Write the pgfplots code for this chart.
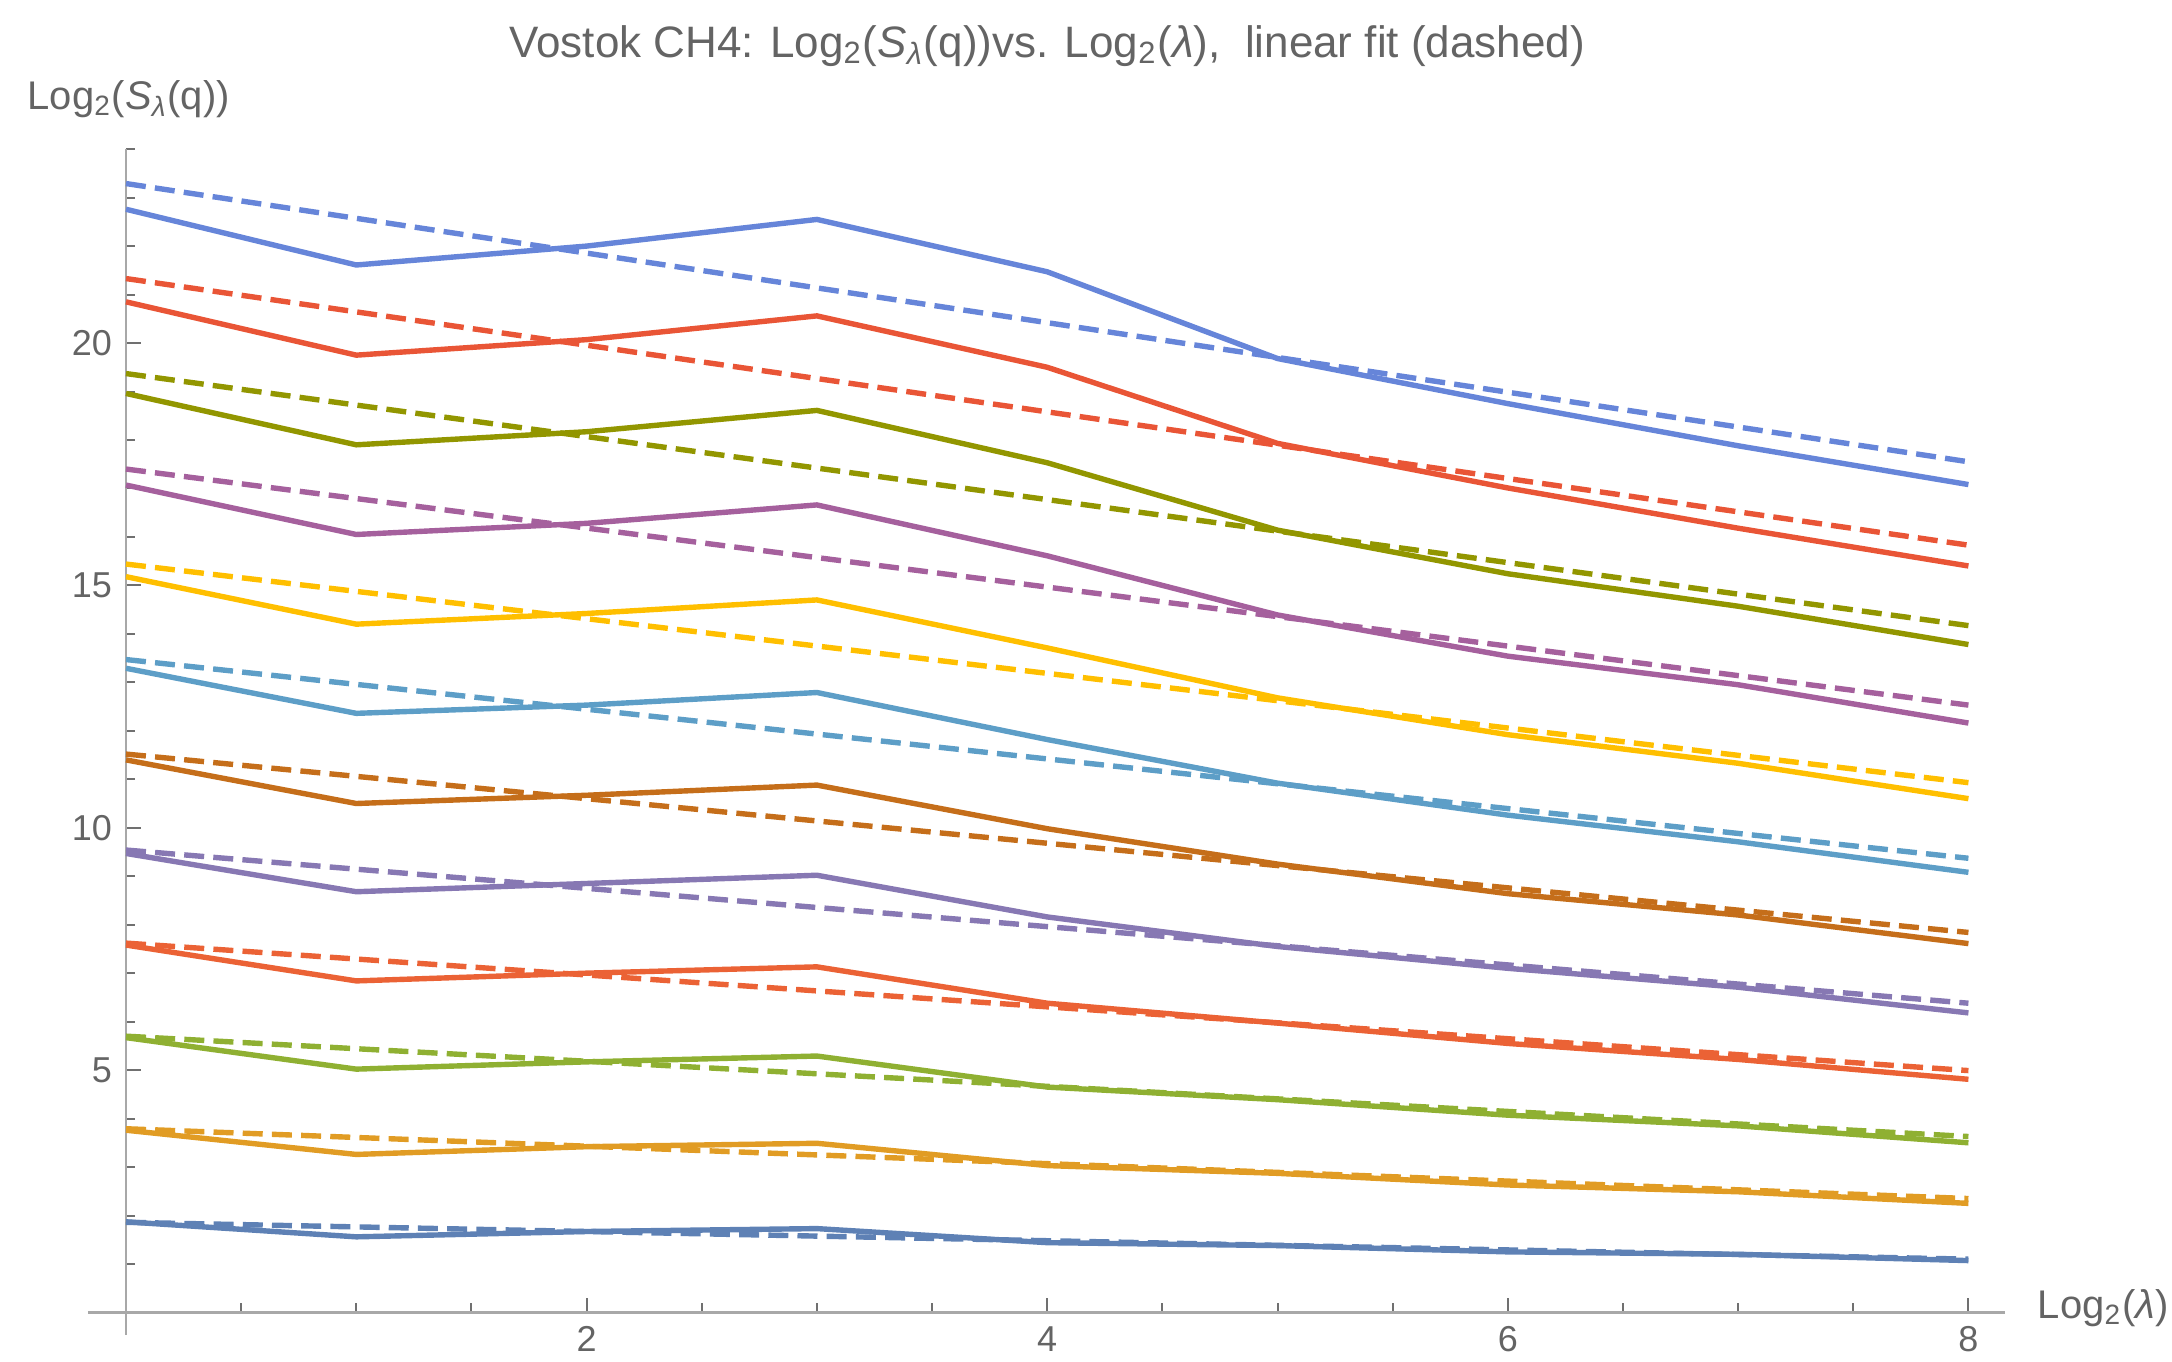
\documentclass[border=0pt]{standalone}
\usepackage{pgfplots}
\pgfplotsset{compat=1.18}
\usepackage{fontspec}
\setmainfont{Liberation Sans}
\definecolor{cA}{HTML}{5E81B5}
\definecolor{cB}{HTML}{E19C24}
\definecolor{cC}{HTML}{8FB032}
\definecolor{cD}{HTML}{EB6235}
\definecolor{cE}{HTML}{8778B3}
\definecolor{cF}{HTML}{C56E1A}
\definecolor{cG}{HTML}{5D9EC7}
\definecolor{cH}{HTML}{FFBF00}
\definecolor{cI}{HTML}{A5609D}
\definecolor{cJ}{HTML}{929600}
\definecolor{cK}{HTML}{E95536}
\definecolor{cL}{HTML}{6685D9}
\definecolor{axisgray}{HTML}{A8A8A8}
\definecolor{tickgray}{HTML}{707070}
\definecolor{textgray}{HTML}{646464}
\begin{document}
\begin{tikzpicture}
\begin{axis}[
  x=57.575pt, y=12.1175pt,
  xmin=-0.165, xmax=8.16, ymin=-0.47, ymax=24.0,
  axis lines=middle,
  axis line style={-, color=axisgray, line width=0.6pt},
  clip=false,
  xtick={2,4,6,8}, minor xtick={0,0.5,...,8},
  ytick={5,10,15,20}, minor ytick={1,2,...,24},
  tick align=inside,
  major tick length=3.7pt, minor tick length=2.25pt,
  tick style={color=tickgray, line width=0.5pt},
  ticklabel style={font=\fontsize{9}{10}\selectfont, text=textgray},
  /pgf/number format/assume math mode=true,
  every axis plot/.append style={line width=1.35pt},
  fit/.style={dash pattern=on 5pt off 2.3pt},
]
% solid series
\addplot[cA, no markers] coordinates {(0,1.87)(1,1.56)(2,1.67)(3,1.73)(4,1.44)(5,1.38)(6,1.25)(7,1.20)(8,1.07)};
\addplot[cB, no markers] coordinates {(0,3.76)(1,3.26)(2,3.42)(3,3.49)(4,3.03)(5,2.87)(6,2.63)(7,2.49)(8,2.25)};
\addplot[cC, no markers] coordinates {(0,5.67)(1,5.02)(2,5.17)(3,5.29)(4,4.65)(5,4.39)(6,4.07)(7,3.85)(8,3.50)};
\addplot[cD, no markers] coordinates {(0,7.58)(1,6.84)(2,7.00)(3,7.13)(4,6.38)(5,5.97)(6,5.55)(7,5.22)(8,4.81)};
\addplot[cE, no markers] coordinates {(0,9.47)(1,8.68)(2,8.85)(3,9.02)(4,8.16)(5,7.55)(6,7.10)(7,6.71)(8,6.18)};
\addplot[cF, no markers] coordinates {(0,11.40)(1,10.50)(2,10.67)(3,10.88)(4,9.98)(5,9.25)(6,8.64)(7,8.20)(8,7.61)};
\addplot[cG, no markers] coordinates {(0,13.29)(1,12.36)(2,12.53)(3,12.79)(4,11.82)(5,10.92)(6,10.26)(7,9.71)(8,9.08)};
\addplot[cH, no markers] coordinates {(0,15.18)(1,14.20)(2,14.42)(3,14.70)(4,13.71)(5,12.68)(6,11.92)(7,11.33)(8,10.60)};
\addplot[cI, no markers] coordinates {(0,17.07)(1,16.05)(2,16.28)(3,16.66)(4,15.61)(5,14.39)(6,13.54)(7,12.95)(8,12.16)};
\addplot[cJ, no markers] coordinates {(0,18.96)(1,17.90)(2,18.17)(3,18.61)(4,17.53)(5,16.14)(6,15.24)(7,14.57)(8,13.78)};
\addplot[cK, no markers] coordinates {(0,20.85)(1,19.75)(2,20.07)(3,20.56)(4,19.50)(5,17.93)(6,17.01)(7,16.18)(8,15.40)};
\addplot[cL, no markers] coordinates {(0,22.76)(1,21.61)(2,22.00)(3,22.55)(4,21.47)(5,19.68)(6,18.75)(7,17.88)(8,17.08)};
% linear fits (dashed)
\addplot[cA, fit, no markers] coordinates {(0,1.86)(8,1.10)};
\addplot[cB, fit, no markers] coordinates {(0,3.79)(8,2.35)};
\addplot[cC, fit, no markers] coordinates {(0,5.70)(8,3.63)};
\addplot[cD, fit, no markers] coordinates {(0,7.62)(8,4.99)};
\addplot[cE, fit, no markers] coordinates {(0,9.54)(8,6.38)};
\addplot[cF, fit, no markers] coordinates {(0,11.52)(8,7.84)};
\addplot[cG, fit, no markers] coordinates {(0,13.47)(8,9.37)};
\addplot[cH, fit, no markers] coordinates {(0,15.44)(8,10.93)};
\addplot[cI, fit, no markers] coordinates {(0,17.40)(8,12.53)};
\addplot[cJ, fit, no markers] coordinates {(0,19.37)(8,14.17)};
\addplot[cK, fit, no markers] coordinates {(0,21.33)(8,15.83)};
\addplot[cL, fit, no markers] coordinates {(0,23.29)(8,17.55)};
% labels and title
\node[anchor=base, text=textgray, font=\fontsize{11}{13}\selectfont, inner sep=0pt] at (axis cs:4.0,25.90)
  {Vostok CH4: Log\textsubscript{2}(\textit{S}\textsubscript{\textit{λ}}(q))vs. Log\textsubscript{2}(\textit{λ}),\ \ linear fit (dashed)};
\node[anchor=base west, text=textgray, font=\fontsize{10}{12}\selectfont, inner sep=0pt] at (axis cs:-0.431,24.81)
  {Log\textsubscript{2}(\textit{S}\textsubscript{\textit{λ}}(q))};
\node[anchor=base west, text=textgray, font=\fontsize{10}{12}\selectfont, inner sep=0pt] at (axis cs:8.298,-0.12)
  {Log\textsubscript{2}(\textit{λ})};
\coordinate (bbsw) at (axis cs:-0.5471,-1.003);
\coordinate (bbne) at (axis cs:8.884,27.077);
\end{axis}
\pgfresetboundingbox
\useasboundingbox (bbsw) rectangle (bbne);
\end{tikzpicture}
\end{document}
